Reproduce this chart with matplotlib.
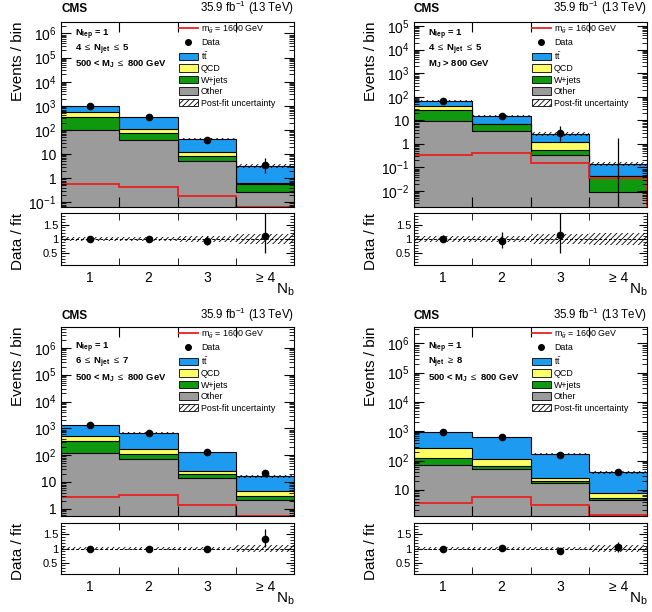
import numpy as np
import matplotlib
matplotlib.use("Agg")
import matplotlib.pyplot as plt
from matplotlib.lines import Line2D
from matplotlib.patches import Patch
from matplotlib.ticker import FuncFormatter, LogLocator, NullFormatter, MultipleLocator

plt.rcParams['font.family'] = ['Liberation Sans', 'DejaVu Sans']
plt.rcParams['mathtext.fontset'] = 'custom'
plt.rcParams['mathtext.rm'] = 'Liberation Sans'
plt.rcParams['mathtext.it'] = 'Liberation Sans:italic'
plt.rcParams['mathtext.bf'] = 'Liberation Sans:bold'
plt.rcParams['hatch.linewidth'] = 0.6

# bins of N_b
nb_bins = [1, 2, 3, 4]
nb_edges = [0.5, 1.5, 2.5, 3.5, 4.5]
nb_labels = ['1', '2', '3', '\u2265 4']

# top left: 4 <= Njet <= 5, 500 < MJ <= 800
other_1 = [100, 38, 5.0, 0.28]
wjets_1 = [260, 40, 3.3, 0.30]
qcd_1 = [190, 29, 4.2, 0.04]
ttbar_1 = [390, 233, 29.5, 2.58]
data_1 = [940, 335, 39, 3.5]
sig_1 = [0.58, 0.45, 0.19, 0.066]
unc_1 = [0.06, 0.06, 0.10, 0.17]

# top right: 4 <= Njet <= 5, MJ > 800
other_2 = [9.3, 3.5, 0.33, 0.0093]
wjets_2 = [18.7, 3.3, 0.24, 0.034]
qcd_2 = [11, 0.4, 0.63, 0.002]
ttbar_2 = [27, 8.8, 1.45, 0.095]
data_2 = [67, 15, 3, 0]
sig_2 = [0.33, 0.42, 0.15, 0.036]
unc_2 = [0.09, 0.10, 0.16, 0.20]

# bottom left: 6 <= Njet <= 7, 500 < MJ <= 800
other_3 = [124, 72, 13.7, 2.1]
wjets_3 = [216, 38, 6.3, 0.9]
qcd_3 = [195, 55, 6, 1.8]
ttbar_3 = [795, 525, 102, 11.7]
data_3 = [1330, 690, 128, 22]
sig_3 = [2.8, 3.3, 1.35, 0.56]
unc_3 = [0.04, 0.04, 0.04, 0.13]

# bottom right: Njet >= 8, 500 < MJ <= 800
other_4 = [71, 50, 17, 4.6]
wjets_4 = [49, 16, 3, 0.6]
qcd_4 = [145, 46, 6, 2.5]
ttbar_4 = [665, 518, 148, 32.3]
data_4 = [930, 650, 160, 42]
sig_4 = [3.5, 5.8, 3.0, 1.37]
unc_4 = [0.04, 0.04, 0.04, 0.14]

c_tt = '#1d9bf0'
c_qcd = '#ffff66'
c_wj = '#0e990e'
c_other = '#9b9b9b'
c_sig = '#e8211f'


def logfmt(v, pos):
    e = int(round(np.log10(v)))
    if e == 0:
        return '1'
    if e == 1:
        return '10'
    return r'$10^{%d}$' % e


def draw(ax, rax, other, wjets, qcd, ttbar, data, sig, unc, ylim, info, info_y, head_y):
    other = np.array(other, float)
    c2 = other + np.array(wjets)
    c3 = c2 + np.array(qcd)
    tot = c3 + np.array(ttbar)
    data = np.array(data, float)
    unc = np.array(unc)

    for top, col in [(tot, c_tt), (c3, c_qcd), (c2, c_wj), (other, c_other)]:
        ax.stairs(top, nb_edges, baseline=1e-6, fill=True, facecolor=col,
                  edgecolor='k', linewidth=0.8)
    ax.stairs(tot * (1 + unc), nb_edges, baseline=tot * (1 - unc), fill=True,
              facecolor='none', edgecolor='k', hatch='//////', linewidth=0)
    ax.stairs(sig, nb_edges, color=c_sig, linewidth=1.3)

    lo = np.sqrt(np.maximum(data - 0.25, 0))
    hi = np.sqrt(data + 0.75) + 1
    x = np.array(nb_bins, float)
    ax.vlines(x, np.maximum(data - lo, 1e-9), data + hi, color='k', linewidth=0.9)
    m = data > 0
    ax.plot(x[m], data[m], 'o', color='k', ms=4.5)

    ax.set_yscale('log')
    ax.set_xlim(0.5, 4.5)
    ax.set_ylim(ylim)
    ax.yaxis.set_major_locator(LogLocator(base=10, numticks=20))
    ax.yaxis.set_minor_locator(LogLocator(base=10, subs=np.arange(2, 10), numticks=100))
    ax.yaxis.set_major_formatter(FuncFormatter(logfmt))
    ax.yaxis.set_minor_formatter(NullFormatter())
    ax.set_xticks([1.5, 2.5, 3.5])
    ax.set_xticklabels([])
    ax.tick_params(which='both', direction='in', top=True, right=True, labelsize=10)
    ax.tick_params(which='major', length=7)
    ax.tick_params(which='minor', length=3.5)
    ax.set_ylabel('Events / bin', fontsize=11, loc='top')
    ax.yaxis.set_label_coords(-0.155, 1.0)

    ax.text(0.0, head_y, 'CMS', transform=ax.transAxes, fontsize=8.5,
            fontweight='bold', ha='left', va='baseline')
    ax.text(1.0, head_y, r'35.9 fb$^{-1}$ (13 TeV)', transform=ax.transAxes,
            fontsize=8.3, ha='right', va='baseline')
    for i, line in enumerate(info):
        ax.text(0.06, info_y - i * 0.08, line, transform=ax.transAxes, fontsize=6.8,
                fontweight='bold', ha='left', va='center')

    handles = [Line2D([], [], color=c_sig, lw=1.3),
               Line2D([], [], marker='o', color='k', ls='none', ms=4),
               Patch(facecolor=c_tt, edgecolor='k', lw=0.6),
               Patch(facecolor=c_qcd, edgecolor='k', lw=0.6),
               Patch(facecolor=c_wj, edgecolor='k', lw=0.6),
               Patch(facecolor=c_other, edgecolor='k', lw=0.6),
               Patch(facecolor='white', edgecolor='k', hatch='//////', lw=0.6)]
    labels = [r'm$_{\tilde{g}}$ = 1600 GeV', 'Data', r'$\mathrm{t\bar{t}}$', 'QCD',
              'W+jets', 'Other', 'Post-fit uncertainty']
    ax.legend(handles, labels, loc='upper left', bbox_to_anchor=(0.505, 0.99),
              frameon=False, fontsize=6.4, handlelength=2.1, handleheight=0.9,
              handletextpad=0.4, labelspacing=0.28, borderaxespad=0, borderpad=0)

    # ratio panel
    rax.stairs(1 + unc, nb_edges, baseline=1 - unc, fill=True, facecolor='none',
               edgecolor='k', hatch='//////', linewidth=0)
    rax.axhline(1, color='k', ls=(0, (3, 2)), lw=0.7)
    r = data / tot
    rax.vlines(x[m], (data[m] - lo[m]) / tot[m], (data[m] + hi[m]) / tot[m],
               color='k', linewidth=0.9)
    rax.plot(x[m], r[m], 'o', color='k', ms=4.5)
    rax.set_xlim(0.5, 4.5)
    rax.set_ylim(0.1, 1.9)
    rax.set_yticks([0.5, 1, 1.5])
    rax.set_yticklabels(['0.5', '1', '1.5'])
    rax.yaxis.set_minor_locator(MultipleLocator(0.1))
    rax.set_xticks(nb_bins)
    rax.set_xticklabels(nb_labels)
    rax.set_xticks([1.5, 2.5, 3.5], minor=True)
    rax.tick_params(which='both', direction='in', top=True, right=True)
    rax.tick_params(axis='y', which='major', length=6, labelsize=8, pad=2)
    rax.tick_params(axis='y', which='minor', length=3)
    rax.tick_params(axis='x', which='major', length=0, labelsize=10, pad=4)
    rax.tick_params(axis='x', which='minor', length=5)
    rax.set_ylabel('Data / fit', fontsize=11, loc='top')
    rax.yaxis.set_label_coords(-0.155, 1.0)
    rax.text(1.0, -0.48, r'N$_{\mathrm{b}}$', transform=rax.transAxes, fontsize=11,
             ha='right', va='center')


fig = plt.figure(figsize=(6.52, 6.12), dpi=100)

lefts = [61 / 652, 414 / 652]
w = 0.358
top_main = [0.6618, 0.3023]
top_ratio = [0.567, 0.085]
bot_main = [0.1569, 0.3088]
bot_ratio = [0.0621, 0.0833]

info_1 = [r'N$_{\mathbf{lep}}$ = 1', r'4 $\leq$ N$_{\mathbf{jet}}$ $\leq$ 5',
          r'500 < M$_{\mathbf{J}}$ $\leq$ 800 GeV']
info_2 = [r'N$_{\mathbf{lep}}$ = 1', r'4 $\leq$ N$_{\mathbf{jet}}$ $\leq$ 5',
          r'M$_{\mathbf{J}}$ > 800 GeV']
info_3 = [r'N$_{\mathbf{lep}}$ = 1', r'6 $\leq$ N$_{\mathbf{jet}}$ $\leq$ 7',
          r'500 < M$_{\mathbf{J}}$ $\leq$ 800 GeV']
info_4 = [r'N$_{\mathbf{lep}}$ = 1', r'N$_{\mathbf{jet}}$ $\geq$ 8',
          r'500 < M$_{\mathbf{J}}$ $\leq$ 800 GeV']

ax1 = fig.add_axes([lefts[0], top_main[0], w, top_main[1]])
r1 = fig.add_axes([lefts[0], top_ratio[0], w, top_ratio[1]])
draw(ax1, r1, other_1, wjets_1, qcd_1, ttbar_1, data_1, sig_1, unc_1,
     (0.064, 3e6), info_1, 0.93, 1.052)

ax2 = fig.add_axes([lefts[1], top_main[0], w, top_main[1]])
r2 = fig.add_axes([lefts[1], top_ratio[0], w, top_ratio[1]])
draw(ax2, r2, other_2, wjets_2, qcd_2, ttbar_2, data_2, sig_2, unc_2,
     (0.0021, 1.5e5), info_2, 0.93, 1.052)

ax3 = fig.add_axes([lefts[0], bot_main[0], w, bot_main[1]])
r3 = fig.add_axes([lefts[0], bot_ratio[0], w, bot_ratio[1]])
draw(ax3, r3, other_3, wjets_3, qcd_3, ttbar_3, data_3, sig_3, unc_3,
     (0.54, 6e6), info_3, 0.89, 1.04)

ax4 = fig.add_axes([lefts[1], bot_main[0], w, bot_main[1]])
r4 = fig.add_axes([lefts[1], bot_ratio[0], w, bot_ratio[1]])
draw(ax4, r4, other_4, wjets_4, qcd_4, ttbar_4, data_4, sig_4, unc_4,
     (1.3, 3.6e6), info_4, 0.89, 1.04)

fig.savefig('out.png', dpi=100)
plt.close()
